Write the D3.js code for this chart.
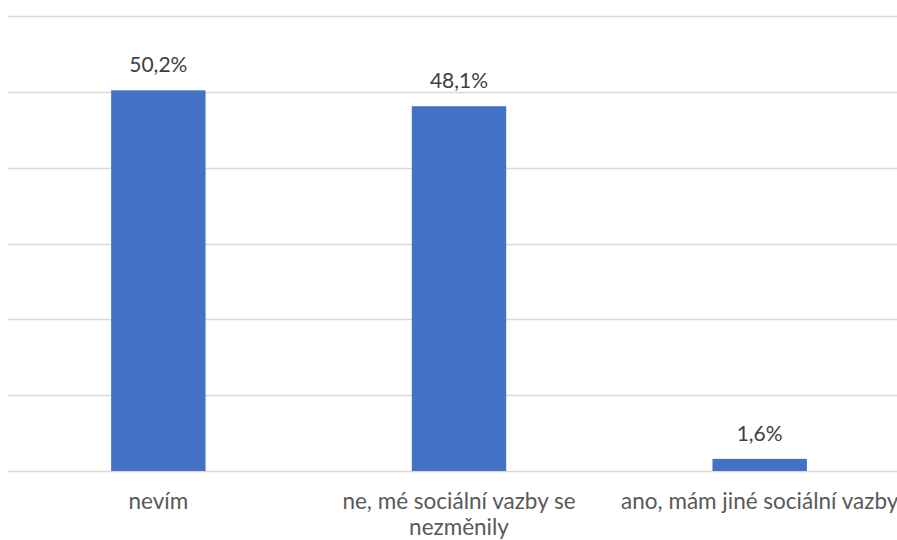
<!DOCTYPE html>
<html>
<head>
<meta charset="utf-8">
<script src="https://cdn.jsdelivr.net/npm/d3@7"></script>
<style>
  html, body { margin: 0; padding: 0; background: #fff; }
  svg { display: block; }
  text { font-family: Lato, "Open Sans", sans-serif; }
</style>
</head>
<body>
<svg id="chart" width="897" height="540"></svg>
<script>
const categories = ["nevím", "ne, mé sociální vazby se nezměnily", "ano, mám jiné sociální vazby"];
const values = [50.2, 48.1, 1.6];
const valueLabels = ["50,2%", "48,1%", "1,6%"];
const yTicks = [0, 10, 20, 30, 40, 50, 60];

const W = 897, H = 540;
const margin = { left: 8, right: -13, top: 16, bottom: 69 };
const svg = d3.select("#chart");

const x = d3.scaleBand()
  .domain(categories)
  .range([margin.left, W - margin.right])
  .paddingInner(0.686)
  .paddingOuter(0.343);

const y = d3.scaleLinear()
  .domain([0, 60])
  .range([H - margin.bottom, margin.top]);

// horizontal gridlines
svg.append("g")
  .selectAll("line")
  .data(yTicks)
  .join("line")
  .attr("x1", margin.left)
  .attr("x2", W - margin.right)
  .attr("y1", d => Math.round(y(d)) + 0.5)
  .attr("y2", d => Math.round(y(d)) + 0.5)
  .attr("stroke", "#d9d9d9")
  .attr("stroke-width", 1.3);

// bars
svg.append("g")
  .selectAll("rect")
  .data(categories)
  .join("rect")
  .attr("x", d => x(d))
  .attr("width", x.bandwidth())
  .attr("y", (d, i) => y(values[i]))
  .attr("height", (d, i) => y(0) - y(values[i]))
  .attr("fill", "#4472c4");

// value labels
svg.append("g")
  .selectAll("text")
  .data(categories)
  .join("text")
  .attr("x", d => x(d) + x.bandwidth() / 2)
  .attr("y", (d, i) => y(values[i]) - 18)
  .attr("text-anchor", "middle")
  .attr("font-size", 21)
  .attr("fill", "#404040")
  .text((d, i) => valueLabels[i]);

// category axis labels with wrapping
const xAxis = svg.append("g")
  .attr("transform", `translate(0,${y(0)})`)
  .call(d3.axisBottom(x).tickSize(0).tickPadding(0));
xAxis.select(".domain").remove();
xAxis.selectAll(".tick text").remove();

const maxW = 300;
xAxis.selectAll(".tick").each(function(d) {
  const g = d3.select(this);
  const t = g.append("text")
    .attr("text-anchor", "middle")
    .attr("font-size", 22.5)
    .attr("fill", "#595959")
    .attr("y", 38);
  const words = d.split(" ");
  let line = [];
  let tspan = t.append("tspan").attr("x", 0).attr("dy", 0);
  for (const w of words) {
    line.push(w);
    tspan.text(line.join(" "));
    if (tspan.node().getComputedTextLength() > maxW && line.length > 1) {
      line.pop();
      tspan.text(line.join(" "));
      line = [w];
      tspan = t.append("tspan").attr("x", 0).attr("dy", 26).text(w);
    }
  }
});
</script>
</body>
</html>
